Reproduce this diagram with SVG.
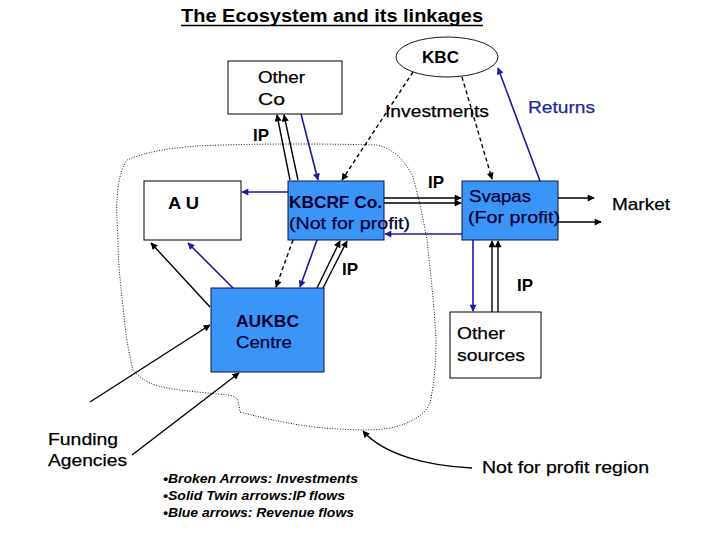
<svg xmlns="http://www.w3.org/2000/svg" width="720" height="540" viewBox="0 0 720 540">
<style>
text{font-family:"Liberation Sans",Arial,sans-serif;font-size:17px;fill:#000;stroke:#000;stroke-width:0.25}
.b{font-weight:bold;stroke-width:0}
.nv{fill:#000033;stroke:#000033}
.box{fill:#fff;stroke:#000;stroke-width:1}
.bbox{fill:#3a95f7;stroke:#10104a;stroke-width:1}
.k{stroke:#000;stroke-width:1.4;fill:none}
.d{stroke:#000;stroke-width:1.4;fill:none;stroke-dasharray:4 3}
.u{stroke:#1a1aa6;stroke-width:1.6;fill:none}
.leg{font-size:13px;font-weight:bold;font-style:italic;stroke-width:0}
</style>
<defs>
<marker id="ak" viewBox="0 0 10 10" refX="9" refY="5" markerWidth="8" markerHeight="7" markerUnits="userSpaceOnUse" orient="auto"><path d="M0,0 L10,5 L0,10 z" fill="#000"/></marker>
<marker id="au" viewBox="0 0 10 10" refX="9" refY="5" markerWidth="8" markerHeight="7" markerUnits="userSpaceOnUse" orient="auto"><path d="M0,0 L10,5 L0,10 z" fill="#1a1aa6"/></marker>
</defs>
<rect width="720" height="540" fill="#fff"/>
<text class="b" x="181" y="22" textLength="302" lengthAdjust="spacingAndGlyphs" style="font-size:18px">The Ecosystem and its linkages</text>
<line x1="181" y1="25.5" x2="483" y2="25.5" stroke="#000" stroke-width="1.3"/>

<path id="region" d="M197,146 C260,143 340,144 377,145 C392,148 405,160 413,177 C418,195 424,222 427,240 C430,270 434,300 436,340 C436,360 434,385 430,403 C425,415 410,424 390,428 C378,430 370,430 362,430 C330,429 300,428 240,412 L238,400 C235,396 230,395 227,395 C200,392 165,390 150,383 C140,378 135,373 133,370 C128,350 125,330 123,307 C120,280 118,260 118,240 C117,220 116,205 117,200 C118,185 120,170 127,160 C145,152 170,148 197,146 Z" fill="none" stroke="#000" stroke-width="0.9" stroke-dasharray="1 1.6"/>

<g id="connectors">
<line class="k" x1="290" y1="180" x2="277" y2="115" marker-end="url(#ak)"/>
<line class="k" x1="298" y1="180" x2="284" y2="115" marker-end="url(#ak)"/>
<line class="k" x1="384" y1="198" x2="461" y2="198" marker-end="url(#ak)"/>
<line class="k" x1="384" y1="203" x2="461" y2="203" marker-end="url(#ak)"/>
<line class="k" x1="558" y1="198" x2="594" y2="198" marker-end="url(#ak)"/>
<line class="k" x1="558" y1="222" x2="601" y2="222" marker-end="url(#ak)"/>
<line class="k" x1="317" y1="288" x2="340" y2="241" marker-end="url(#ak)"/>
<line class="k" x1="323" y1="288" x2="347" y2="241" marker-end="url(#ak)"/>
<line class="k" x1="210" y1="307" x2="151" y2="243" marker-end="url(#ak)"/>
<line class="k" x1="90" y1="402" x2="210" y2="325" marker-end="url(#ak)"/>
<line class="k" x1="132" y1="455" x2="239" y2="373" marker-end="url(#ak)"/>
<line class="k" x1="492" y1="312" x2="492" y2="241" marker-end="url(#ak)"/>
<line class="k" x1="498" y1="312" x2="498" y2="241" marker-end="url(#ak)"/>
<line class="d" x1="413" y1="72" x2="342" y2="180" marker-end="url(#ak)"/>
<line class="d" x1="462" y1="77" x2="492" y2="179" marker-end="url(#ak)"/>
<line class="d" x1="293" y1="240" x2="276" y2="287" marker-end="url(#ak)"/>
<line class="u" x1="301" y1="114" x2="318" y2="180" marker-end="url(#au)"/>
<line class="u" x1="288" y1="192" x2="242" y2="192" marker-end="url(#au)"/>
<line class="u" x1="462" y1="234" x2="385" y2="234" marker-end="url(#au)"/>
<line class="u" x1="540" y1="181" x2="498" y2="68" marker-end="url(#au)"/>
<line class="u" x1="317" y1="240" x2="300" y2="287" marker-end="url(#au)"/>
<line class="u" x1="233" y1="288" x2="188" y2="243" marker-end="url(#au)"/>
<line class="u" x1="473" y1="240" x2="473" y2="311" marker-end="url(#au)"/>
<path class="k" d="M472,468 C430,466 385,456 363,431" marker-end="url(#ak)"/>
</g>

<g id="kbc">
<ellipse cx="447" cy="57" rx="51" ry="20" fill="#fff" stroke="#000" stroke-width="0.9"/>
<text class="b" x="422" y="63" textLength="37" lengthAdjust="spacingAndGlyphs">KBC</text>
</g>
<g id="other-co">
<rect class="box" x="228" y="61" width="114" height="53"/>
<text x="258" y="83" textLength="47" lengthAdjust="spacingAndGlyphs">Other</text>
<text x="258" y="105" textLength="27" lengthAdjust="spacingAndGlyphs">Co</text>
</g>
<g id="au">
<rect class="box" x="144" y="181" width="97" height="59"/>
<text class="b" x="168" y="209" textLength="31" lengthAdjust="spacingAndGlyphs">A U</text>
</g>
<g id="kbcrf">
<rect class="bbox" x="288" y="181" width="96" height="59"/>
<text class="nv" x="289" y="208" textLength="93" lengthAdjust="spacingAndGlyphs" style="font-weight:bold;stroke-width:0">KBCRF Co.</text>
<text class="nv" x="289" y="229" textLength="121" lengthAdjust="spacingAndGlyphs">(Not for profit)</text>
</g>
<g id="svapas">
<rect class="bbox" x="462" y="181" width="96" height="59"/>
<text class="nv" x="469" y="202" textLength="62" lengthAdjust="spacingAndGlyphs">Svapas</text>
<text class="nv" x="468" y="223" textLength="92" lengthAdjust="spacingAndGlyphs">(For profit)</text>
</g>
<g id="market">
<text x="612" y="210" textLength="58" lengthAdjust="spacingAndGlyphs">Market</text>
</g>
<g id="aukbc">
<rect class="bbox" x="211" y="288" width="113" height="84"/>
<text class="nv b" x="236" y="327" textLength="63" lengthAdjust="spacingAndGlyphs">AUKBC</text>
<text class="nv" x="236" y="348" textLength="56" lengthAdjust="spacingAndGlyphs">Centre</text>
</g>
<g id="other-sources">
<rect class="box" x="450" y="312" width="91" height="66"/>
<text x="457" y="339" textLength="48" lengthAdjust="spacingAndGlyphs">Other</text>
<text x="457" y="361" textLength="68" lengthAdjust="spacingAndGlyphs">sources</text>
</g>
<g id="funding">
<text x="48" y="445" textLength="70" lengthAdjust="spacingAndGlyphs">Funding</text>
<text x="48" y="466" textLength="79" lengthAdjust="spacingAndGlyphs">Agencies</text>
</g>

<g id="labels">
<text x="385" y="117" textLength="104" lengthAdjust="spacingAndGlyphs">Investments</text>
<text x="528" y="113" textLength="67" lengthAdjust="spacingAndGlyphs" style="fill:#1a2a9e;stroke:#1a2a9e">Returns</text>
<text class="b" x="253" y="141" textLength="16" lengthAdjust="spacingAndGlyphs">IP</text>
<text class="b" x="428" y="188" textLength="16" lengthAdjust="spacingAndGlyphs">IP</text>
<text class="b" x="342" y="275" textLength="16" lengthAdjust="spacingAndGlyphs">IP</text>
<text class="b" x="517" y="291" textLength="16" lengthAdjust="spacingAndGlyphs">IP</text>
<text x="482" y="473" textLength="167" lengthAdjust="spacingAndGlyphs">Not for profit region</text>
</g>
<g id="legend">
<text class="leg" x="163" y="483" textLength="195" lengthAdjust="spacingAndGlyphs">•Broken Arrows: Investments</text>
<text class="leg" x="163" y="500" textLength="182" lengthAdjust="spacingAndGlyphs">•Solid Twin arrows:IP flows</text>
<text class="leg" x="163" y="517" textLength="191" lengthAdjust="spacingAndGlyphs">•Blue arrows: Revenue flows</text>
</g>
</svg>
